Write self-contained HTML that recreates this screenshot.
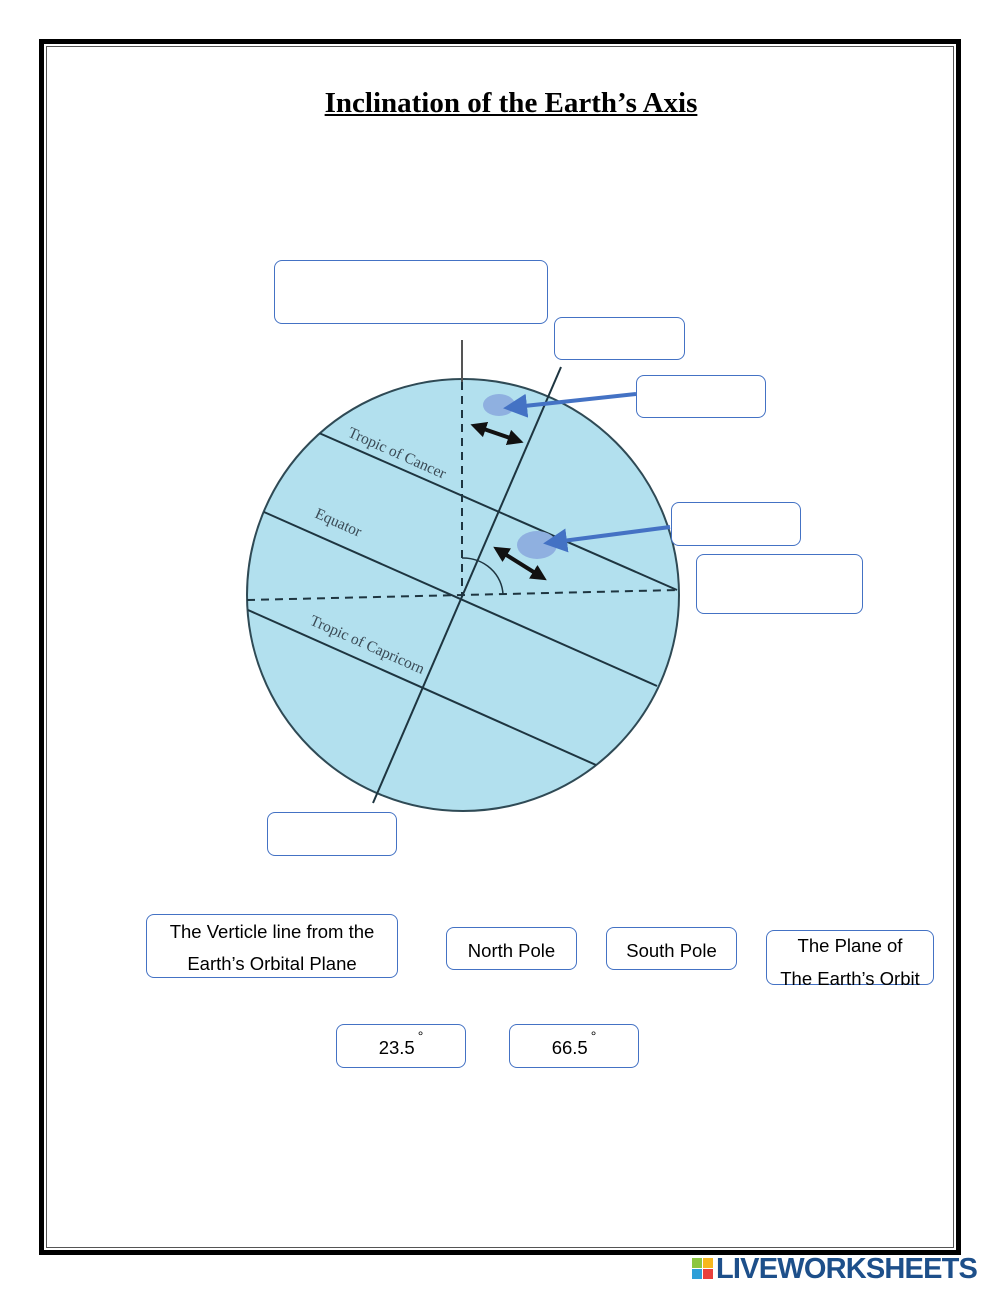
<!DOCTYPE html>
<html><head><meta charset="utf-8"><style>
html,body{margin:0;padding:0;background:#fff;}
body{width:1000px;height:1294px;position:relative;overflow:hidden;font-family:"Liberation Sans",sans-serif;}
.b{position:absolute;border:1.5px solid #4472c4;border-radius:8px;box-sizing:border-box;background:#fff;display:flex;align-items:center;justify-content:center;text-align:center;font-size:19px;color:#000;line-height:26px;padding-top:4px;}
</style></head><body>
<div style="position:absolute;left:39px;top:39px;width:922px;height:1216px;box-sizing:border-box;border:5px solid #000;"></div>
<div style="position:absolute;left:46px;top:46px;width:908px;height:1202px;box-sizing:border-box;border:1.5px solid #555;"></div>
<div style="position:absolute;left:0;width:1022px;top:87px;text-align:center;font-family:'Liberation Serif',serif;font-weight:bold;font-size:29px;"><span style="text-decoration:underline;">Inclination of the Earth’s Axis</span></div>
<svg width="1000" height="1294" style="position:absolute;left:0;top:0">
<defs><clipPath id="c"><circle cx="463" cy="595" r="216"/></clipPath>
<marker id="ah" markerWidth="6" markerHeight="6" refX="3" refY="3" orient="auto"><path d="M0,0L6,3L0,6z" fill="#4472c4"/></marker>
<marker id="bk" markerWidth="4" markerHeight="4" refX="2" refY="2" orient="auto-start-reverse"><path d="M0,0L4,2L0,4z" fill="#111"/></marker></defs>
<circle cx="463" cy="595" r="216" fill="#b2e0ee" stroke="#2f4a55" stroke-width="2"/>
<g clip-path="url(#c)" stroke="#1e3540" stroke-width="2" fill="none">
<line x1="319" y1="433" x2="677" y2="590"/>
<line x1="264" y1="512" x2="657" y2="686"/>
<line x1="248" y1="610" x2="596" y2="765"/>
</g>
<line x1="561" y1="367" x2="373" y2="803" stroke="#1e3540" stroke-width="2"/>
<line x1="462" y1="340" x2="462" y2="382" stroke="#555" stroke-width="2"/>
<line x1="462" y1="382" x2="462" y2="597" stroke="#1e3540" stroke-width="2" stroke-dasharray="8,6"/>
<line x1="247" y1="600" x2="678" y2="590" stroke="#1e3540" stroke-width="2" stroke-dasharray="8,6"/>
<path d="M462,558 A40,38 0 0 1 503,595" fill="none" stroke="#1e3540" stroke-width="1.5"/>
<g font-family="Liberation Serif,serif" font-size="15.5" fill="#3a4a55">
<text transform="translate(347,436) rotate(24)">Tropic of Cancer</text>
<text transform="translate(314,517) rotate(24)">Equator</text>
<text transform="translate(309,624) rotate(24)">Tropic of Capricorn</text>
</g>
<ellipse cx="499" cy="405" rx="16" ry="11" fill="#8fb0e0"/>
<ellipse cx="537" cy="545" rx="20" ry="14" fill="#8fb0e0"/>
<line x1="636" y1="394" x2="515" y2="407" stroke="#4472c4" stroke-width="4" marker-end="url(#ah)"/>
<line x1="670" y1="527" x2="555" y2="542" stroke="#4472c4" stroke-width="4" marker-end="url(#ah)"/>
<line x1="478" y1="427" x2="516" y2="440" stroke="#111" stroke-width="4" marker-start="url(#bk)" marker-end="url(#bk)"/>
<line x1="500" y1="551" x2="540" y2="576" stroke="#111" stroke-width="4" marker-start="url(#bk)" marker-end="url(#bk)"/>
</svg>
<div class="b" style="left:274px;top:260px;width:274px;height:64px"></div>
<div class="b" style="left:554px;top:317px;width:131px;height:43px"></div>
<div class="b" style="left:636px;top:375px;width:130px;height:43px"></div>
<div class="b" style="left:671px;top:502px;width:130px;height:44px"></div>
<div class="b" style="left:696px;top:554px;width:167px;height:60px"></div>
<div class="b" style="left:267px;top:812px;width:130px;height:44px"></div>
<div class="b" style="left:146px;top:914px;width:252px;height:64px;font-size:18.5px;line-height:32px">The Verticle line from the<br>Earth’s Orbital Plane</div>
<div class="b" style="left:446px;top:927px;width:131px;height:43px;font-size:18.5px">North Pole</div>
<div class="b" style="left:606px;top:927px;width:131px;height:43px;font-size:18.5px">South Pole</div>
<div class="b" style="left:766px;top:930px;width:168px;height:55px;white-space:nowrap;line-height:33px;padding-top:8px;font-size:18.5px">The Plane of<br>The Earth’s Orbit</div>
<div class="b" style="left:336px;top:1024px;width:130px;height:44px;font-size:18.5px">23.5<span style="font-size:14px;position:relative;top:-12px;margin-left:3px">°</span></div>
<div class="b" style="left:509px;top:1024px;width:130px;height:44px;font-size:18.5px">66.5<span style="font-size:14px;position:relative;top:-12px;margin-left:3px">°</span></div>
<div style="position:absolute;left:692px;top:1258px;width:28px;height:24px;">
<div style="position:absolute;left:0;top:0;width:10px;height:10px;background:#8cc63f"></div>
<div style="position:absolute;left:11px;top:0;width:10px;height:10px;background:#f7b71d"></div>
<div style="position:absolute;left:0;top:11px;width:10px;height:10px;background:#2e9fd8"></div>
<div style="position:absolute;left:11px;top:11px;width:10px;height:10px;background:#e8403c"></div>
</div>
<div style="position:absolute;left:716px;top:1253px;font-size:29px;font-weight:bold;color:#1d4f8a;letter-spacing:-0.8px;">LIVEWORKSHEETS</div>
</body></html>
